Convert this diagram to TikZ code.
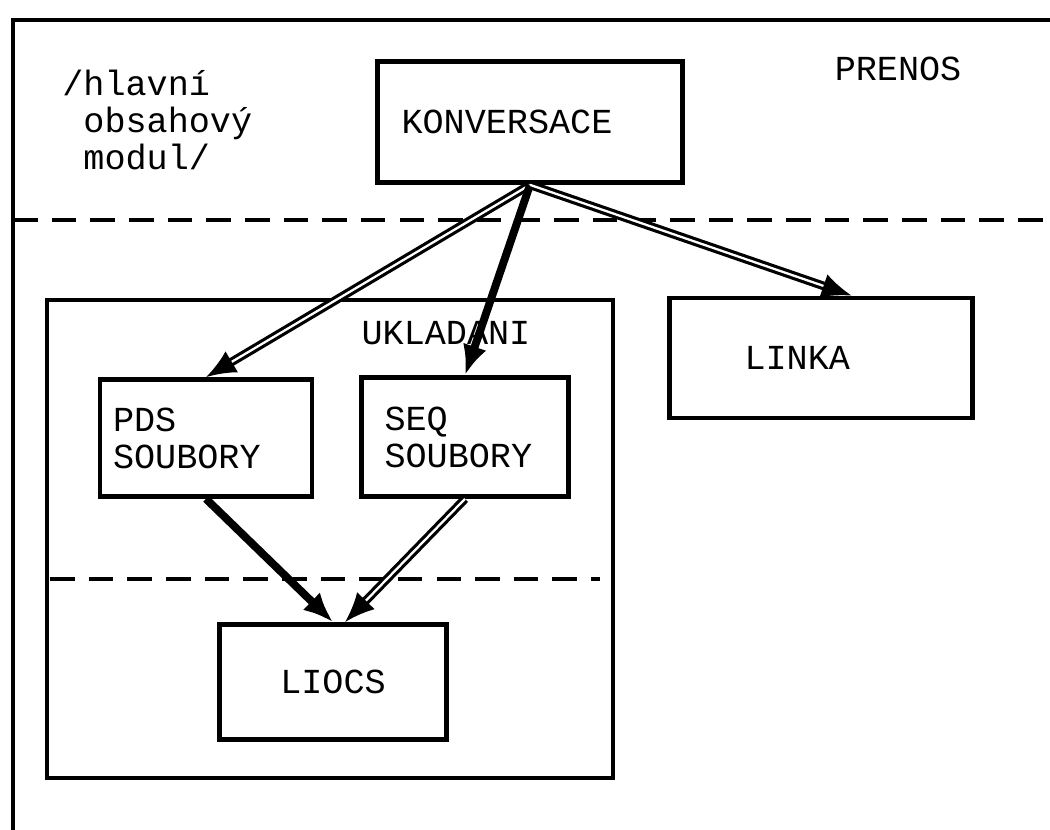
\documentclass[tikz,border=0pt]{standalone}
\usepackage{fontspec}
\setmonofont{Liberation Mono}
\usetikzlibrary{arrows.meta, calc}

\begin{document}
\begin{tikzpicture}[
    x=0.02cm, y=-0.02cm,
    txt/.style={
        font=\fontsize{20}{21}\selectfont\ttfamily,
        inner sep=0pt
    },
    box/.style={
        rectangle,
        draw,
        line width=2.7pt,
        font=\fontsize{20}{21}\selectfont\ttfamily
    },
    filebox/.style={
        box,
        align=left,
        inner ysep=0pt
    },
    divider/.style={
        line width=2.6pt,
        dash pattern=on 14pt off 8pt
    },
    solidarrow/.style={
        -{Latex[length=17pt,width=14pt]},
        line width=4.5pt
    },
    doublearrow/.style={
        -{Latex[length=17pt,width=14pt]},
        double,
        line width=1.8pt,
        double distance=1.3pt
    }
]
    \useasboundingbox (0,0) rectangle (1050,830);

    % outer frame and the line between the layers
    \draw[line width=2.7pt] (13,830) -- (13,20) -- (1050,20);
    \draw[divider] (13,220) -- (1050,220);

    % upper layer
    \node[txt, align=left, anchor=north west] (modul) at (62,70)
        {/hlavní\\\phantom{/}obsahový\\\phantom{/}modul/};
    \node[box, align=left, inner xsep=0.48cm, text width=5.14cm, minimum height=2.42cm] (konversace) at (530,122) {KONVERSACE};
    \node[txt] (prenos) at (898,69) {PRENOS};

    % storage
    \node[box, minimum width=11.32cm, minimum height=9.56cm] (ukladani) at (330,539) {};
    \node[txt] (ukladanilabel) at (446,333) {UKLADANI};
    \node[filebox, inner xsep=0.26cm, text width=3.72cm, minimum height=2.34cm] (pds) at (206,438) {PDS\\SOUBORY};
    \node[filebox, inner xsep=0.46cm, text width=3.22cm, minimum height=2.38cm] (seq) at (465,437) {SEQ\\SOUBORY};
    \draw[divider] (50,579) -- (600,579);
    \node[box, minimum width=4.54cm, minimum height=2.3cm] (liocs) at (333,682) {LIOCS};

    % transfer
    \node[box, align=left, inner xsep=1.5cm, text width=3.06cm, minimum height=2.4cm] (linka) at (821,358) {LINKA};

    \draw[doublearrow] (konversace.south) -- (pds.north);
    \draw[solidarrow] (konversace.south) -- (seq.north);
    \draw[doublearrow] (konversace.south) -- ($(linka.north west)!0.6!(linka.north east)$);

    \draw[solidarrow] (pds.south) -- (liocs.north);
    \draw[doublearrow] (seq.south) -- ($(liocs.north)+(12,0)$);

\end{tikzpicture}
\end{document}
